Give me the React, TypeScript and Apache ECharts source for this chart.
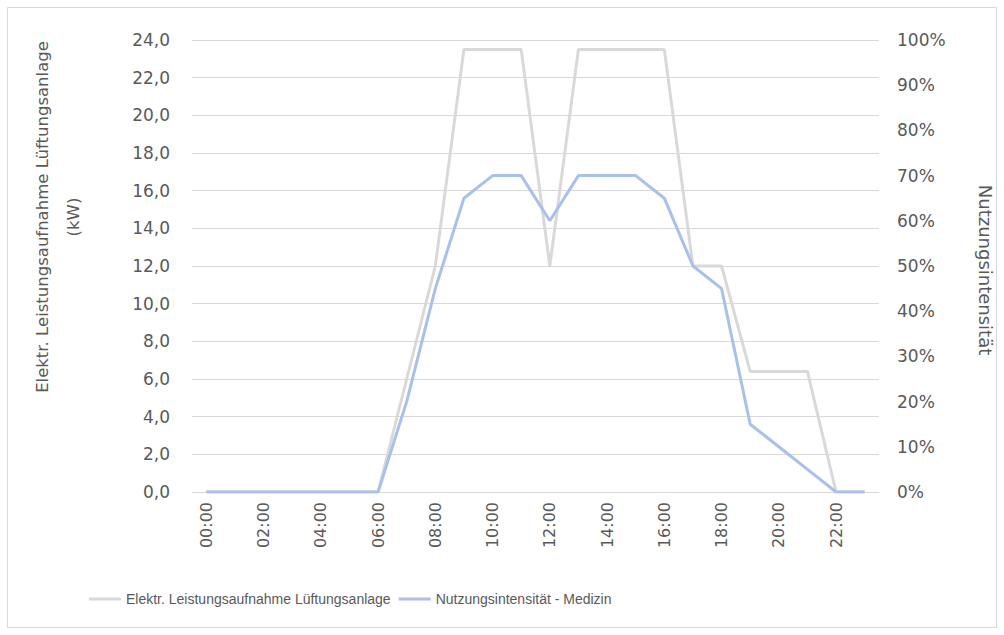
import React, { useEffect, useRef } from "react";
import * as echarts from "echarts";

const hours: string[] = [
  "00:00", "01:00", "02:00", "03:00", "04:00", "05:00", "06:00", "07:00",
  "08:00", "09:00", "10:00", "11:00", "12:00", "13:00", "14:00", "15:00",
  "16:00", "17:00", "18:00", "19:00", "20:00", "21:00", "22:00", "23:00",
];
const leistung: number[] = [
  0, 0, 0, 0, 0, 0, 0, 6, 12, 23.5, 23.5, 23.5, 12, 23.5, 23.5, 23.5,
  23.5, 12, 12, 6.4, 6.4, 6.4, 0, 0,
];
const nutzung: number[] = [
  0, 0, 0, 0, 0, 0, 0, 20, 45, 65, 70, 70, 60, 70, 70, 70,
  65, 50, 45, 15, 10, 5, 0, 0,
];
const seriesNames = [
  "Elektr. Leistungsaufnahme Lüftungsanlage",
  "Nutzungsintensität - Medizin",
];
const leftTitle = ["Elektr. Leistungsaufnahme Lüftungsanlage", "(kW)"];
const rightTitle = "Nutzungsintensität";

const textColor = "#595959";
const gridColor = "#d9d9d9";

export default function App() {
  const ref = useRef<HTMLDivElement>(null);
  useEffect(() => {
    if (!ref.current) return;
    const chart = echarts.init(ref.current, null, { renderer: "svg" });
    chart.setOption({
      animation: false,
      backgroundColor: "#ffffff",
      grid: { left: 192, right: 125, top: 40, bottom: 143, containLabel: false },
      legend: {
        bottom: 24,
        left: 84,
        itemWidth: 32,
        itemHeight: 3,
        itemGap: 8,
        icon: "rect",
        textStyle: {
          color: textColor,
          fontFamily: "Liberation Sans",
          fontSize: 14,
        },
        data: seriesNames,
      },
      xAxis: {
        type: "category",
        data: hours,
        boundaryGap: true,
        axisLine: { show: true, lineStyle: { color: gridColor, width: 1 } },
        axisTick: { show: false },
        axisLabel: {
          interval: 1,
          rotate: 90,
          margin: 10,
          color: textColor,
          fontFamily: "DejaVu Sans",
          fontSize: 16,
        },
      },
      yAxis: [
        {
          type: "value",
          min: 0,
          max: 24,
          interval: 2,
          axisLine: { show: false },
          axisTick: { show: false },
          splitLine: { lineStyle: { color: gridColor, width: 1 } },
          axisLabel: {
            margin: 22,
            color: textColor,
            fontFamily: "DejaVu Sans",
            fontSize: 17,
            formatter: (v: number) => v.toFixed(1).replace(".", ","),
          },
        },
        {
          type: "value",
          min: 0,
          max: 100,
          interval: 10,
          position: "right",
          axisLine: { show: false },
          axisTick: { show: false },
          splitLine: { show: false },
          axisLabel: {
            margin: 18,
            color: textColor,
            fontFamily: "DejaVu Sans",
            fontSize: 17,
            formatter: (v: number) => v + "%",
          },
        },
      ],
      graphic: [
        {
          type: "rect",
          shape: { x: 7.5, y: 7.5, width: 989, height: 620 },
          style: { fill: "none", stroke: gridColor, lineWidth: 1 },
          silent: true,
        },
        {
          type: "text",
          x: 42,
          y: 217,
          rotation: Math.PI / 2,
          style: {
            text: leftTitle[0],
            fill: textColor,
            font: "16.5px 'DejaVu Sans'",
            align: "center",
            verticalAlign: "middle",
          },
        },
        {
          type: "text",
          x: 73,
          y: 217,
          rotation: Math.PI / 2,
          style: {
            text: leftTitle[1],
            fill: textColor,
            font: "16.5px 'DejaVu Sans'",
            align: "center",
            verticalAlign: "middle",
          },
        },
        {
          type: "text",
          x: 985,
          y: 270,
          rotation: -Math.PI / 2,
          style: {
            text: rightTitle,
            fill: textColor,
            font: "18px 'DejaVu Sans'",
            align: "center",
            verticalAlign: "middle",
          },
        },
      ],
      series: [
        {
          name: seriesNames[0],
          type: "line",
          yAxisIndex: 0,
          data: leistung,
          showSymbol: false,
          symbol: "none",
          lineStyle: { color: "#d9d9d9", width: 3 },
          itemStyle: { color: "#d9d9d9" },
        },
        {
          name: seriesNames[1],
          type: "line",
          yAxisIndex: 1,
          data: nutzung,
          showSymbol: false,
          symbol: "none",
          lineStyle: { color: "#a9c0ea", width: 3 },
          itemStyle: { color: "#a9c0ea" },
        },
      ],
    });
    return () => chart.dispose();
  }, []);
  return (
    <div
      ref={ref}
      style={{ position: "absolute", left: 0, top: 0, width: 1004, height: 635 }}
    />
  );
}
